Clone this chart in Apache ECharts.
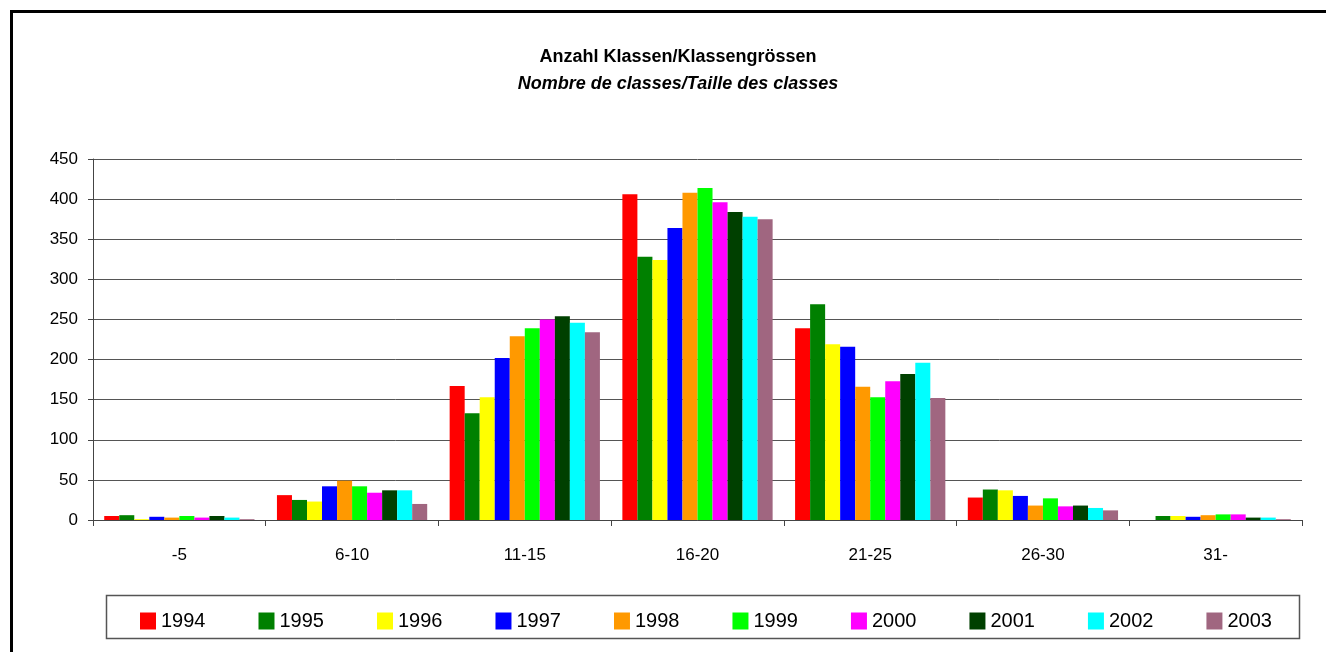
<html>
<head>
<meta charset="utf-8">
<title>Anzahl Klassen</title>
<script src="https://cdn.jsdelivr.net/npm/echarts@6/dist/echarts.min.js"></script>
<style>
  body { margin: 0; background: #fff; }
  #chart { width: 1326px; height: 652px; }
</style>
</head>
<body>
<div id="chart"></div>
<script>
// Klassengrössen (x-Achse)
var categories = ['-5', '6-10', '11-15', '16-20', '21-25', '26-30', '31-'];
var years = ['1994', '1995', '1996', '1997', '1998', '1999', '2000', '2001', '2002', '2003'];
var colors = ['#ff0000', '#008000', '#ffff00', '#0000ff', '#ff9900', '#00ff00', '#ff00ff', '#004000', '#00ffff', '#a06680'];

var v1994 = [5, 31, 167, 406, 239, 28, 0];
var v1995 = [6, 25, 133, 328, 269, 38, 5];
var v1996 = [1, 23, 153, 324, 219, 37, 5];
var v1997 = [4, 42, 202, 364, 216, 30, 4];
var v1998 = [3, 49, 229, 408, 166, 18, 6];
var v1999 = [5, 42, 239, 414, 153, 27, 7];
var v2000 = [3, 34, 250, 396, 173, 17, 7];
var v2001 = [5, 37, 254, 384, 182, 18, 3];
var v2002 = [3, 37, 246, 378, 196, 15, 3];
var v2003 = [1, 20, 234, 375, 152, 12, 1];
var values = [v1994, v1995, v1996, v1997, v1998, v1999, v2000, v2001, v2002, v2003];

var yTicks = [0, 50, 100, 150, 200, 250, 300, 350, 400, 450];

var font = 'Liberation Sans, Arial, sans-serif';
var series = [];
years.forEach(function (y, i) {
    series.push({
        name: y,
        type: 'bar',
        data: values[i],
        barGap: '0%',
        barCategoryGap: '13%',
        itemStyle: { color: colors[i] }
    });
});

var chart = echarts.init(document.getElementById('chart'));
chart.setOption({
    animation: false,
    color: colors,
    textStyle: { fontFamily: font, color: '#000' },
    title: {
        text: 'Anzahl Klassen/Klassengrössen',
        subtext: 'Nombre de classes/Taille des classes',
        left: 673,
        top: 43,
        textAlign: 'center',
        itemGap: 9,
        textStyle: { fontFamily: font, fontSize: 18, fontWeight: 'bold', color: '#000' },
        subtextStyle: { fontFamily: font, fontSize: 18, fontWeight: 'bold', fontStyle: 'italic', color: '#000' }
    },
    graphic: [
        { type: 'rect', shape: { x: 11.5, y: 11.5, width: 1330, height: 660 },
          style: { fill: 'none', stroke: '#000', lineWidth: 3 }, silent: true },
        { type: 'rect', shape: { x: 106.5, y: 595.5, width: 1193, height: 43 },
          style: { fill: 'none', stroke: '#555', lineWidth: 1.5 }, silent: true }
    ],
    legend: {
        data: years,
        left: 135,
        top: 606,
        icon: 'rect',
        itemWidth: 16,
        itemHeight: 17,
        itemGap: 53,
        textStyle: { fontFamily: font, fontSize: 20, color: '#000', padding: [2, 0, 0, 0] }
    },
    grid: { left: 93, right: 24, top: 159, bottom: 132 },
    xAxis: {
        type: 'category',
        data: categories,
        axisLine: { lineStyle: { color: '#444', width: 1 } },
        axisTick: { show: true, length: 6, lineStyle: { color: '#444' } },
        axisLabel: { fontFamily: font, fontSize: 17, color: '#000', margin: 27 }
    },
    yAxis: {
        type: 'value',
        min: yTicks[0],
        max: yTicks[yTicks.length - 1],
        interval: 50,
        axisLine: { show: true, lineStyle: { color: '#444', width: 1 } },
        axisTick: { show: true, length: 5, lineStyle: { color: '#444' } },
        axisLabel: { fontFamily: font, fontSize: 17, color: '#000', margin: 15 },
        splitLine: { show: true, lineStyle: { color: '#555', width: 1 } }
    },
    series: series
});
</script>
</body>
</html>
